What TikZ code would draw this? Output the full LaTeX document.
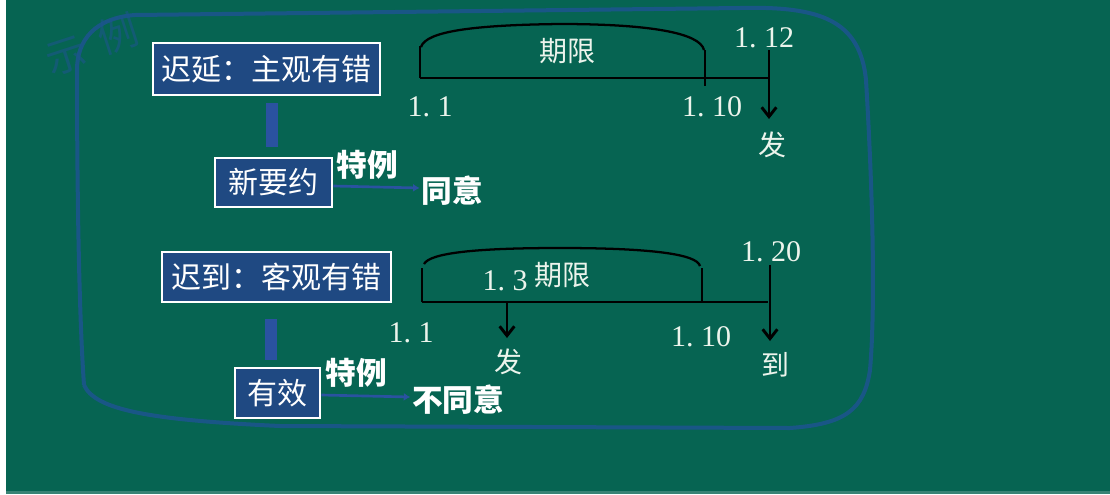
\documentclass[tikz,border=0pt]{standalone}
\usepackage{fontspec}
\setmainfont{Liberation Serif}
\newfontfamily\cjk{Noto Sans CJK SC}
\usetikzlibrary{arrows.meta}
\definecolor{bggreen}{RGB}{6,100,82}
\definecolor{boxblue}{RGB}{31,73,130}
\definecolor{linkblue}{RGB}{42,82,160}
\definecolor{loopblue}{RGB}{28,85,140}
\definecolor{txtwhite}{RGB}{236,244,236}
\newcommand\dg[2]{#1.\kern0.25em#2}
\tikzset{
 box/.style={draw=white, line width=2pt, fill=boxblue, text=white, inner sep=0pt,
   font=\cjk\fontsize{22.5pt}{27pt}\selectfont},
 lbl/.style={text=txtwhite, inner sep=1pt, font=\cjk\fontsize{21pt}{25pt}\selectfont},
 blbl/.style={text=white, inner sep=1pt, font=\cjk\bfseries\fontsize{23pt}{27pt}\selectfont},
 num/.style={text=txtwhite, inner sep=0pt, font=\fontsize{22.5pt}{27pt}\selectfont},
 tl/.style={draw=black, line width=2.2pt},
 brace/.style={draw=black, line width=1.7pt},
 tlarrow/.style={tl, -{Straight Barb[length=7pt,width=11pt,line width=2.2pt]}},
 fatlink/.style={draw=linkblue, line width=8.5pt},
 thinlink/.style={draw=linkblue, line width=2pt, -{Latex[length=5pt,width=6pt]}},
 loopline/.style={draw=loopblue, line width=3pt, opacity=.9},
 hand/.style={text=loopblue, opacity=.6, rotate=18, inner sep=0pt,
   font=\cjk\fontsize{30pt}{34pt}\selectfont},
}
\begin{document}
\begin{tikzpicture}[x=0.75pt,y=-0.75pt]
\useasboundingbox (0,0) rectangle (1110,494);
\fill[white] (0,0) rectangle (1110,494);
\fill[bggreen] (6,0) rectangle (1110,491);
\fill[bggreen!80!white] (6,491) rectangle (1110,494);

% hand-drawn loop
\draw[loopline] (84,385) .. controls (78,300) and (77,150) .. (77,70)
  .. controls (77,40) and (95,18) .. (135,15)
  -- (740,8) .. controls (820,6) and (860,20) .. (866,80)
  .. controls (872,180) and (876,300) .. (870,370)
  .. controls (864,410) and (845,424) .. (790,428)
  -- (280,426) .. controls (150,420) and (95,410) .. (84,385);
\node[hand] (hw1) at (66,56) {示};
\node[hand] (hw2) at (118,34) {例};

% boxes
\node[box, minimum width=170.25pt, minimum height=39pt] (b1) at (266.5,69) {迟延：主观有错};
\node[box, minimum width=87.75pt, minimum height=36.75pt] (b2) at (273.5,182.5) {新要约};
\node[box, minimum width=171.75pt, minimum height=37.5pt] (b3) at (276.5,277) {迟到：客观有错};
\node[box, minimum width=63.75pt, minimum height=37.5pt] (b4) at (277.5,393) {有效};

\draw[fatlink, shorten <=5pt, shorten >=7pt] (b1.south -| 272,0) -- (b2.north -| 272,0);
\draw[fatlink, shorten <=12pt, shorten >=5pt] (b3.south -| 271,0) -- (b4.north -| 271,0);

\node[blbl] (tl1) at (367,165) {特例};
\node[blbl] (ty1) at (452,191) {同意};
\node[blbl] (tl2) at (356,373) {特例};
\node[blbl] (ty2) at (458,400) {不同意};
\draw[thinlink] (b2.east |- 0,186) -- (ty1.west |- 0,188);
\draw[thinlink] (b4.east |- 0,395) -- (ty2.west |- 0,397);

% timeline 1
\coordinate (a1) at (420,78);
\coordinate (a2) at (705,78);
\coordinate (a3) at (769,78);
\draw[tl] (a1) -- (a3);
\draw[tl] (420,46) -- (a1);
\draw[tl] (705,50) -- (705,86);
\draw[brace] (421,47) .. controls (426,31) and (475,25) .. (560,24) .. controls (650,24) and (700,33) .. (704,50);
\node[lbl] (q1) at (567,51) {期限};
\node[num] (n112) at (764,38) {\dg{1}{12}};
\node[num] (n11a) at (430,107) {\dg{1}{1}};
\node[num] (n110a) at (712,107) {\dg{1}{10}};
\node[lbl] (f1) at (772,145) {发};
\coordinate (s1) at (769,50);
\draw[tlarrow] (s1) -- (769,119);

% timeline 2
\coordinate (c1) at (422,302);
\coordinate (c2) at (702,302);
\coordinate (c3) at (768,302);
\draw[tl] (c1) -- (c3);
\draw[tl] (422,268) -- (c1);
\draw[tl] (702,268) -- (702,303);
\draw[brace] (424,264) .. controls (430,253) and (475,248) .. (560,248) .. controls (650,248) and (697,254) .. (700,266);
\node[num] (n13) at (505,281) {\dg{1}{3}};
\node[lbl] (q2) at (562,275) {期限};
\node[num] (n120) at (771,252) {\dg{1}{20}};
\node[num] (n11b) at (411,333) {\dg{1}{1}};
\node[num] (n110b) at (701,337) {\dg{1}{10}};
\node[lbl] (f2) at (508,362) {发};
\node[lbl] (d2) at (775,365) {到};
\coordinate (s2) at (507,302);
\coordinate (s3) at (770,265);
\draw[tlarrow] (s2) -- (507,338);
\draw[tlarrow] (s3) -- (770,341);
\end{tikzpicture}
\end{document}
